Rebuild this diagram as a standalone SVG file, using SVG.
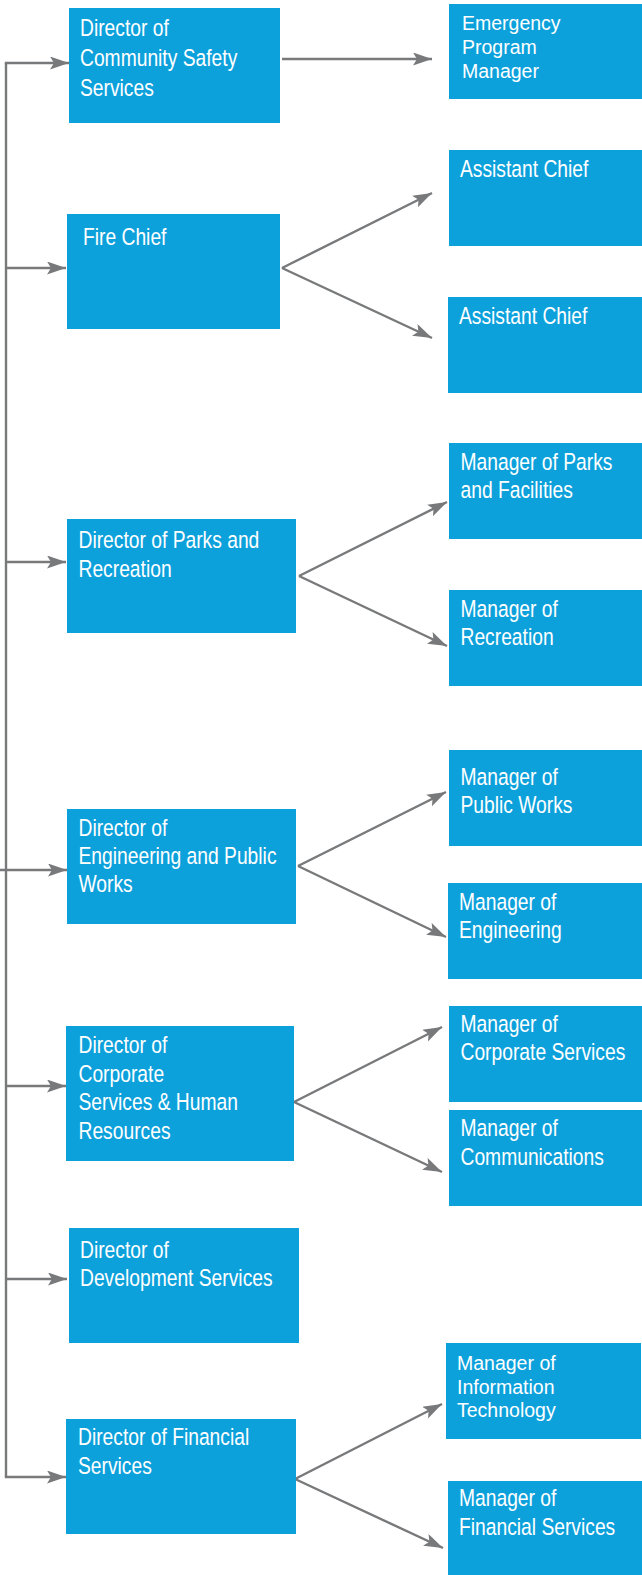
<svg xmlns="http://www.w3.org/2000/svg" width="642" height="1575" viewBox="0 0 642 1575">
<style>
.box{fill:#0DA1DC}
.t{font-family:"Liberation Sans",Arial,sans-serif;font-size:23.5px;fill:#FFFFFF}
.s{font-family:"Liberation Sans",Arial,sans-serif;font-size:19.5px;fill:#FFFFFF}
.c{stroke:#78797B;stroke-width:2.4;fill:none}
.a{marker-end:url(#arr)}
</style>
<defs>
<marker id="arr" markerUnits="userSpaceOnUse" markerWidth="20" markerHeight="14" refX="19" refY="6.5" orient="auto">
<path d="M0,0 L19,6.5 L0,13 L4,6.5 Z" fill="#78797B"/>
</marker>
</defs>
<rect width="642" height="1575" fill="#FFFFFF"/>
<g id="connectors">
<path class="c" d="M6,63 V1477"/>
<path class="c a" d="M4.8,63 H69"/>
<path class="c a" d="M6,268 H66"/>
<path class="c a" d="M6,562 H66"/>
<path class="c a" d="M0,870 H67"/>
<path class="c a" d="M6,1086 H66"/>
<path class="c a" d="M6,1279 H67"/>
<path class="c a" d="M4.8,1477 H66"/>
<path class="c a" d="M282,59 H432"/>
<path class="c a" d="M282,268 L432,193"/>
<path class="c a" d="M282,268 L432,338"/>
<path class="c a" d="M299,576 L447,502"/>
<path class="c a" d="M299,576 L447,646"/>
<path class="c a" d="M298,866 L446,792"/>
<path class="c a" d="M298,866 L446,937"/>
<path class="c a" d="M294,1102 L442,1027"/>
<path class="c a" d="M294,1102 L442,1172"/>
<path class="c a" d="M295,1479 L442,1404"/>
<path class="c a" d="M295,1479 L443,1548"/>
</g>
<g id="n-community">
<rect class="box" x="69" y="8" width="211" height="115"/>
<g transform="translate(80,0) scale(0.82,1)">
<text class="t" x="0" y="36">Director of</text>
<text class="t" x="0" y="66">Community Safety</text>
<text class="t" x="0" y="96">Services</text>
</g>
</g>
<g id="n-emergency">
<rect class="box" x="449" y="4" width="193" height="95"/>
<text class="s" x="462" y="29.5">Emergency</text>
<text class="s" x="462" y="53.5">Program</text>
<text class="s" x="462" y="77.5">Manager</text>
</g>
<g id="n-fire">
<rect class="box" x="67" y="214" width="213" height="115"/>
<g transform="translate(83,0) scale(0.82,1)">
<text class="t" x="0" y="245">Fire Chief</text>
</g>
</g>
<g id="n-asst1">
<rect class="box" x="449" y="150" width="193" height="96"/>
<g transform="translate(460,0) scale(0.82,1)">
<text class="t" x="0" y="177.5">Assistant Chief</text>
</g>
</g>
<g id="n-asst2">
<rect class="box" x="448" y="297" width="194" height="96"/>
<g transform="translate(459,0) scale(0.82,1)">
<text class="t" x="0" y="324">Assistant Chief</text>
</g>
</g>
<g id="n-parks-dir">
<rect class="box" x="67" y="519" width="229" height="114"/>
<g transform="translate(78.5,0) scale(0.82,1)">
<text class="t" x="0" y="548.5">Director of Parks and</text>
<text class="t" x="0" y="577.5">Recreation</text>
</g>
</g>
<g id="n-parks-mgr">
<rect class="box" x="449" y="443" width="193" height="96"/>
<g transform="translate(460.5,0) scale(0.82,1)">
<text class="t" x="0" y="470">Manager of Parks</text>
<text class="t" x="0" y="498.5">and Facilities</text>
</g>
</g>
<g id="n-rec-mgr">
<rect class="box" x="449" y="590" width="193" height="96"/>
<g transform="translate(460.5,0) scale(0.82,1)">
<text class="t" x="0" y="617.5">Manager of</text>
<text class="t" x="0" y="645">Recreation</text>
</g>
</g>
<g id="n-eng-dir">
<rect class="box" x="67" y="809" width="229" height="115"/>
<g transform="translate(78.5,0) scale(0.82,1)">
<text class="t" x="0" y="836">Director of</text>
<text class="t" x="0" y="864.5">Engineering and Public</text>
<text class="t" x="0" y="892.5">Works</text>
</g>
</g>
<g id="n-pw-mgr">
<rect class="box" x="449" y="750" width="193" height="96"/>
<g transform="translate(460.5,0) scale(0.82,1)">
<text class="t" x="0" y="785">Manager of</text>
<text class="t" x="0" y="813.5">Public Works</text>
</g>
</g>
<g id="n-eng-mgr">
<rect class="box" x="448" y="883" width="194" height="96"/>
<g transform="translate(459,0) scale(0.82,1)">
<text class="t" x="0" y="910">Manager of</text>
<text class="t" x="0" y="938.5">Engineering</text>
</g>
</g>
<g id="n-corp-dir">
<rect class="box" x="66" y="1026" width="228" height="135"/>
<g transform="translate(78.5,0) scale(0.82,1)">
<text class="t" x="0" y="1053.5">Director of</text>
<text class="t" x="0" y="1082">Corporate</text>
<text class="t" x="0" y="1110.5">Services &amp; Human</text>
<text class="t" x="0" y="1139">Resources</text>
</g>
</g>
<g id="n-corp-mgr">
<rect class="box" x="449" y="1006" width="193" height="96"/>
<g transform="translate(460.5,0) scale(0.82,1)">
<text class="t" x="0" y="1032.5">Manager of</text>
<text class="t" x="0" y="1060.5">Corporate Services</text>
</g>
</g>
<g id="n-comm-mgr">
<rect class="box" x="449" y="1110" width="193" height="96"/>
<g transform="translate(460.5,0) scale(0.82,1)">
<text class="t" x="0" y="1136.5">Manager of</text>
<text class="t" x="0" y="1165">Communications</text>
</g>
</g>
<g id="n-dev-dir">
<rect class="box" x="69" y="1228" width="230" height="115"/>
<g transform="translate(80,0) scale(0.82,1)">
<text class="t" x="0" y="1258.5">Director of</text>
<text class="t" x="0" y="1286.5">Development Services</text>
</g>
</g>
<g id="n-it-mgr">
<rect class="box" x="446" y="1343" width="195" height="96"/>
<text class="s" x="457" y="1369.5">Manager of</text>
<text class="s" x="457" y="1393.5">Information</text>
<text class="s" x="457" y="1417">Technology</text>
</g>
<g id="n-fin-dir">
<rect class="box" x="66" y="1419" width="230" height="115"/>
<g transform="translate(78,0) scale(0.82,1)">
<text class="t" x="0" y="1445.5">Director of Financial</text>
<text class="t" x="0" y="1474.5">Services</text>
</g>
</g>
<g id="n-fin-mgr">
<rect class="box" x="448" y="1481" width="194" height="94"/>
<g transform="translate(459,0) scale(0.82,1)">
<text class="t" x="0" y="1506">Manager of</text>
<text class="t" x="0" y="1535">Financial Services</text>
</g>
</g>
</svg>
